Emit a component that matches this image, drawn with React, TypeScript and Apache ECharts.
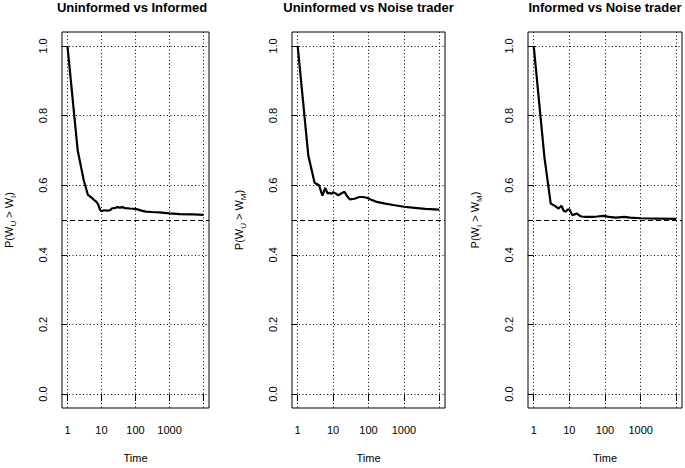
import React, { useEffect, useRef } from "react";
import * as echarts from "echarts";

const panelTitles = ["Uninformed vs Informed", "Uninformed vs Noise trader", "Informed vs Noise trader"];
const yNames = ["P(W{s|U} > W{s|I})", "P(W{s|U} > W{s|M})", "P(W{s|I} > W{s|M})"];

const time1 = [1, 2, 3, 4, 5, 6, 7, 8, 9, 10, 12, 15, 18, 20, 25, 30, 35, 40, 50, 70, 100, 150, 200, 300, 500, 1000, 2000, 5000, 10000];
const uninfVsInf = [1.0, 0.70, 0.615, 0.572, 0.565, 0.558, 0.553, 0.545, 0.530, 0.525, 0.528, 0.527, 0.528, 0.533, 0.535, 0.537, 0.535, 0.537, 0.534, 0.533, 0.532, 0.527, 0.524, 0.523, 0.522, 0.519, 0.517, 0.516, 0.515];

const time2 = [1, 2, 3, 4, 5, 6, 7, 8, 9, 10, 12, 14, 17, 21, 25, 30, 40, 55, 70, 90, 120, 170, 300, 500, 1000, 2000, 4000, 10000];
const uninfVsNoise = [1.0, 0.685, 0.607, 0.600, 0.570, 0.592, 0.576, 0.578, 0.575, 0.580, 0.576, 0.571, 0.576, 0.581, 0.568, 0.559, 0.561, 0.566, 0.566, 0.564, 0.558, 0.552, 0.547, 0.543, 0.538, 0.535, 0.532, 0.530];

const time3 = [1, 2, 3, 4, 5, 6, 7, 8, 9, 10, 11, 12, 14, 16, 19, 22, 30, 45, 60, 90, 130, 200, 350, 500, 1000, 3000, 10000];
const infVsNoise = [1.0, 0.68, 0.547, 0.540, 0.533, 0.541, 0.526, 0.524, 0.530, 0.531, 0.522, 0.514, 0.516, 0.519, 0.513, 0.510, 0.509, 0.509, 0.510, 0.512, 0.509, 0.507, 0.509, 0.507, 0.505, 0.504, 0.503];

const xTickValues = [1, 10, 100, 1000, 10000];
const xLabelValues = [1, 10, 100, 1000];
const yTickValues = [0, 0.2, 0.4, 0.6, 0.8, 1.0];
const refLevel = 0.5;

const times = [time1, time2, time3];
const values = [uninfVsInf, uninfVsNoise, infVsNoise];

const FONT = "'Liberation Sans', Arial, Helvetica, sans-serif";

export default function App() {
  const ref = useRef<HTMLDivElement>(null);
  useEffect(() => {
    if (!ref.current) return;
    const chart = echarts.init(ref.current, undefined, { renderer: "svg" });
    const lefts = [55, 292, 528];
    const widths = [154, 153, 154];
    const grids = lefts.map((l, i) => ({
      left: l,
      top: 32,
      width: widths[i],
      height: 383,
      show: true,
      borderColor: "#000",
      borderWidth: 1,
      backgroundColor: "transparent",
    }));
    const titleTexts = panelTitles.map((t, i) => ({
      type: "text",
      x: lefts[i] + widths[i] / 2,
      y: 1,
      style: {
        text: t,
        textAlign: "center",
        textVerticalAlign: "top",
        fontFamily: FONT,
        fontSize: 13,
        fontWeight: "bold",
        fill: "#000",
      },
    }));
    const dotted = { color: "#000", width: 1, type: [1, 2.5] };
    const xAxes = lefts.map((_, i) => ({
      type: "value",
      gridIndex: i,
      min: -0.16,
      max: 4.16,
      name: "Time",
      nameLocation: "middle",
      nameGap: 44,
      nameTextStyle: { fontFamily: FONT, fontSize: 11, color: "#000" },
      axisLine: { show: false },
      axisTick: {
        show: true,
        inside: false,
        length: 7,
        lineStyle: { color: "#000", width: 1 },
        customValues: xTickValues.map((v) => Math.log10(v)),
      },
      axisLabel: {
        show: true,
        margin: 16,
        fontFamily: FONT,
        fontSize: 11,
        color: "#000",
        customValues: xLabelValues.map((v) => Math.log10(v)),
        formatter: (v: number) => String(Math.round(Math.pow(10, v))),
      },
      splitLine: { show: true, lineStyle: dotted },
    }));
    const yAxes = lefts.map((_, i) => ({
      type: "value",
      gridIndex: i,
      min: -0.04,
      max: 1.04,
      name: yNames[i],
      nameLocation: "middle",
      nameRotate: 90,
      nameGap: 45,
      nameTextStyle: {
        fontFamily: FONT,
        fontSize: 11,
        color: "#000",
        lineHeight: 16,
        rich: {
          s: { fontFamily: FONT, fontSize: 8, color: "#000", lineHeight: 16, verticalAlign: "bottom" },
        },
      },
      axisLine: { show: false },
      axisTick: {
        show: true,
        inside: false,
        length: 6,
        lineStyle: { color: "#000", width: 1 },
        customValues: yTickValues,
      },
      axisLabel: {
        show: true,
        rotate: 90,
        margin: 14,
        fontFamily: FONT,
        fontSize: 11,
        color: "#000",
        customValues: yTickValues,
        formatter: (v: number) => v.toFixed(1),
      },
      splitLine: { show: true, lineStyle: dotted },
    }));
    const series = lefts.map((_, i) => ({
      type: "line",
      xAxisIndex: i,
      yAxisIndex: i,
      showSymbol: false,
      symbol: "none",
      lineStyle: { color: "#000", width: 2.2 },
      data: times[i].map((t, j) => [Math.log10(t), values[i][j]]),
      markLine: {
        silent: true,
        symbol: "none",
        label: { show: false },
        lineStyle: { color: "#000", width: 1, type: [5, 3] },
        data: [{ yAxis: refLevel }],
      },
      z: 3,
    }));
    chart.setOption({
      animation: false,
      backgroundColor: "#fff",
      graphic: titleTexts,
      grid: grids,
      xAxis: xAxes,
      yAxis: yAxes,
      series,
    });
    return () => chart.dispose();
  }, []);
  return (
    <div
      ref={ref}
      style={{ position: "absolute", left: 0, top: 0, width: 685, height: 468 }}
    />
  );
}
